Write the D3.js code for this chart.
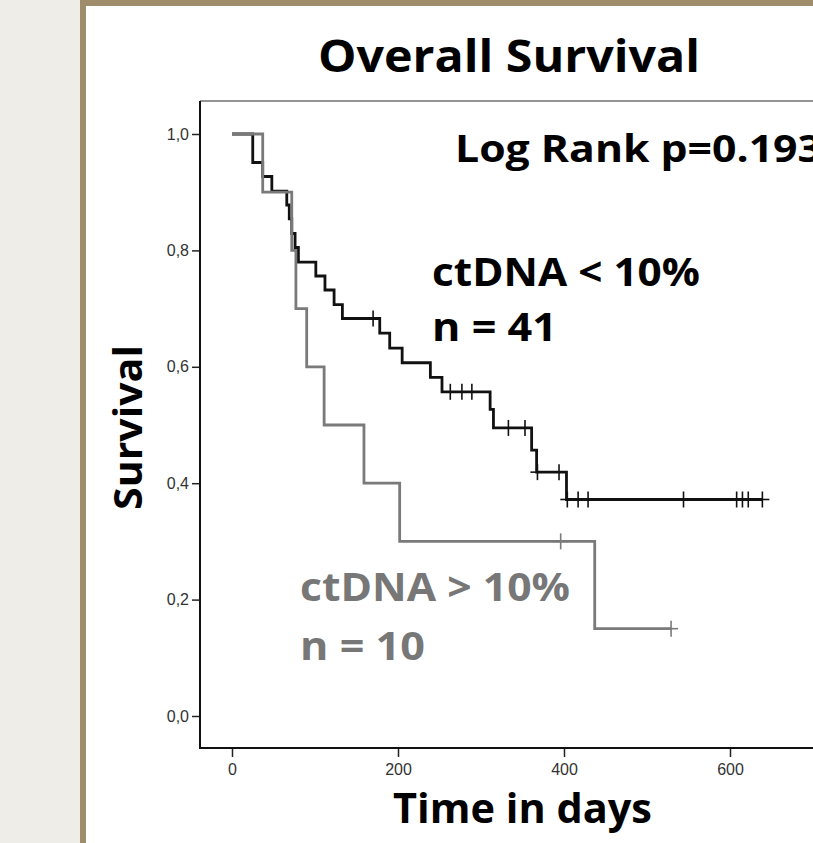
<!DOCTYPE html>
<html>
<head>
<meta charset="utf-8">
<script src="https://cdn.jsdelivr.net/npm/d3@7"></script>
<style>
html,body{margin:0;padding:0;background:#eeede8;overflow:hidden;}
svg{display:block;}
svg .tick text{font-family:"Liberation Sans", Arial, sans-serif !important; font-size:16px !important;}
</style>
</head>
<body>
<svg id="chart" width="813" height="843"></svg>
<script>
// ---- data ----
const lowTimes   = [25, 37, 48, 66, 69, 72, 76, 80, 101, 112, 123, 133, 178, 190, 205, 239, 253, 311, 315, 361, 367, 403];
const lowSurv    = [0.951, 0.927, 0.902, 0.878, 0.854, 0.829, 0.805, 0.780, 0.756, 0.732, 0.707, 0.683, 0.658, 0.632, 0.607, 0.582, 0.557, 0.527, 0.495, 0.457, 0.419, 0.372];
const lowCensor  = [170, 263, 277, 289, 333, 353, 368, 394, 404, 417, 429, 544, 608, 615, 622, 639];
const lowEnd     = 639;

const highTimes  = [37, 72, 77, 90, 111, 159, 202, 437];
const highSurv   = [0.9, 0.8, 0.7, 0.6, 0.5, 0.4, 0.3, 0.15];
const highCensor = [396, 529];
const highEnd    = 529;

const yTicks     = [0, 0.2, 0.4, 0.6, 0.8, 1.0];
const yTickLabels= ["0,0", "0,2", "0,4", "0,6", "0,8", "1,0"];
const xTicks     = [0, 200, 400, 600];

const titleText  = "Overall Survival";
const pText      = "Log Rank p=0.193";
const lowLabel   = ["ctDNA < 10%", "n = 41"];
const highLabel  = ["ctDNA > 10%", "n = 10"];
const xTitle     = "Time in days";
const yTitle     = "Survival";

// ---- drawing ----
const svg = d3.select("#chart");
const FONT = "'Open Sans', Lato, sans-serif";

// panel
svg.append("rect").attr("x", 0).attr("y", 0).attr("width", 813).attr("height", 843).attr("fill", "#eeede8");
svg.append("rect").attr("x", 80).attr("y", 0).attr("width", 760).attr("height", 900).attr("fill", "#9e8c6a");
svg.append("rect").attr("x", 86).attr("y", 6).attr("width", 760).attr("height", 900).attr("fill", "#ffffff");

const x = d3.scaleLinear().domain([0, 600]).range([232, 730]);
const y = d3.scaleLinear().domain([0, 1]).range([716, 134]);

const frameLeft = 200, frameTop = 101, frameBottom = 748;

// frame
svg.append("line").attr("x1", frameLeft).attr("x2", 900).attr("y1", frameTop).attr("y2", frameTop)
  .attr("stroke", "#707070").attr("stroke-width", 1.5);

// axes
const yAxis = d3.axisLeft(y).tickValues(yTicks).tickSize(8)
  .tickFormat(d => yTickLabels[yTicks.indexOf(d)]);
const gy = svg.append("g").attr("transform", `translate(${frameLeft},0)`).call(yAxis);
gy.attr("font-size", 16).attr("font-family", "Liberation Sans, Arial, sans-serif");
gy.select(".domain").remove();
gy.selectAll(".tick line").attr("stroke", "#222").attr("stroke-width", 1.5);
gy.selectAll(".tick text").attr("fill", "#333").attr("x", -11);

const xAxis = d3.axisBottom(x).tickValues(xTicks).tickSize(9).tickFormat(d3.format("d"));
const gx = svg.append("g").attr("transform", `translate(0,${frameBottom})`).call(xAxis);
gx.attr("font-size", 16).attr("font-family", "Liberation Sans, Arial, sans-serif");
gx.select(".domain").remove();
gx.selectAll(".tick line").attr("stroke", "#222").attr("stroke-width", 1.5);
gx.selectAll(".tick text").attr("fill", "#333").attr("dy", "0.95em");

svg.append("line").attr("x1", frameLeft).attr("x2", frameLeft).attr("y1", frameTop).attr("y2", frameBottom + 1)
  .attr("stroke", "#111").attr("stroke-width", 2);
svg.append("line").attr("x1", frameLeft - 1).attr("x2", 900).attr("y1", frameBottom).attr("y2", frameBottom)
  .attr("stroke", "#111").attr("stroke-width", 2);

// KM curves
function stepPoints(times, surv, end) {
  const pts = [[0, 1]];
  let s = 1;
  times.forEach((t, i) => { pts.push([t, s]); s = surv[i]; pts.push([t, s]); });
  pts.push([end, s]);
  return pts;
}
function survAt(times, surv, t) {
  let s = 1;
  times.forEach((tt, i) => { if (tt <= t) s = surv[i]; });
  return s;
}
const line = d3.line().x(d => x(d[0])).y(d => y(d[1]));

function drawCurve(times, surv, censor, end, color) {
  const g = svg.append("g");
  g.append("path").datum(stepPoints(times, surv, end)).attr("d", line)
    .attr("fill", "none").attr("stroke", color).attr("stroke-width", 2.8)
    .attr("stroke-linejoin", "miter");
  censor.forEach(t => {
    const cx = x(t), cy = y(survAt(times, surv, t));
    g.append("line").attr("x1", cx).attr("x2", cx).attr("y1", cy - 8).attr("y2", cy + 8)
      .attr("stroke", color).attr("stroke-width", 1.6);
    g.append("line").attr("x1", cx - 7).attr("x2", cx + 7).attr("y1", cy).attr("y2", cy)
      .attr("stroke", color).attr("stroke-width", 1.6);
  });
}
drawCurve(lowTimes, lowSurv, lowCensor, lowEnd, "#111111");
drawCurve(highTimes, highSurv, highCensor, highEnd, "#7a7a7a");

// texts
function bold(txt, xx, yy, size, color, anchor, len) {
  const t = svg.append("text").attr("x", xx).attr("y", yy).text(txt)
    .attr("font-family", FONT).attr("font-weight", "bold").attr("font-size", size)
    .attr("fill", color).attr("text-anchor", anchor || "start");
  if (len) t.attr("textLength", len).attr("lengthAdjust", "spacingAndGlyphs");
  return t;
}
bold(titleText, 318, 72, 44, "#000", "start", 382);
bold(pText, 455, 162, 38, "#000", "start", 367);
bold(lowLabel[0], 432, 286, 40, "#000", "start", 268);
bold(lowLabel[1], 432, 341, 40, "#000", "start", 125);
bold(highLabel[0], 300, 601, 40, "#777", "start", 270);
bold(highLabel[1], 300, 660, 40, "#777", "start", 125);
bold(xTitle, 393, 823, 41, "#000", "start", 259);
svg.append("text").attr("transform", "translate(142,510) rotate(-90)").text(yTitle)
  .attr("font-family", FONT).attr("font-weight", "bold").attr("font-size", 40)
  .attr("fill", "#000").attr("textLength", 165).attr("lengthAdjust", "spacingAndGlyphs");
</script>
</body>
</html>
